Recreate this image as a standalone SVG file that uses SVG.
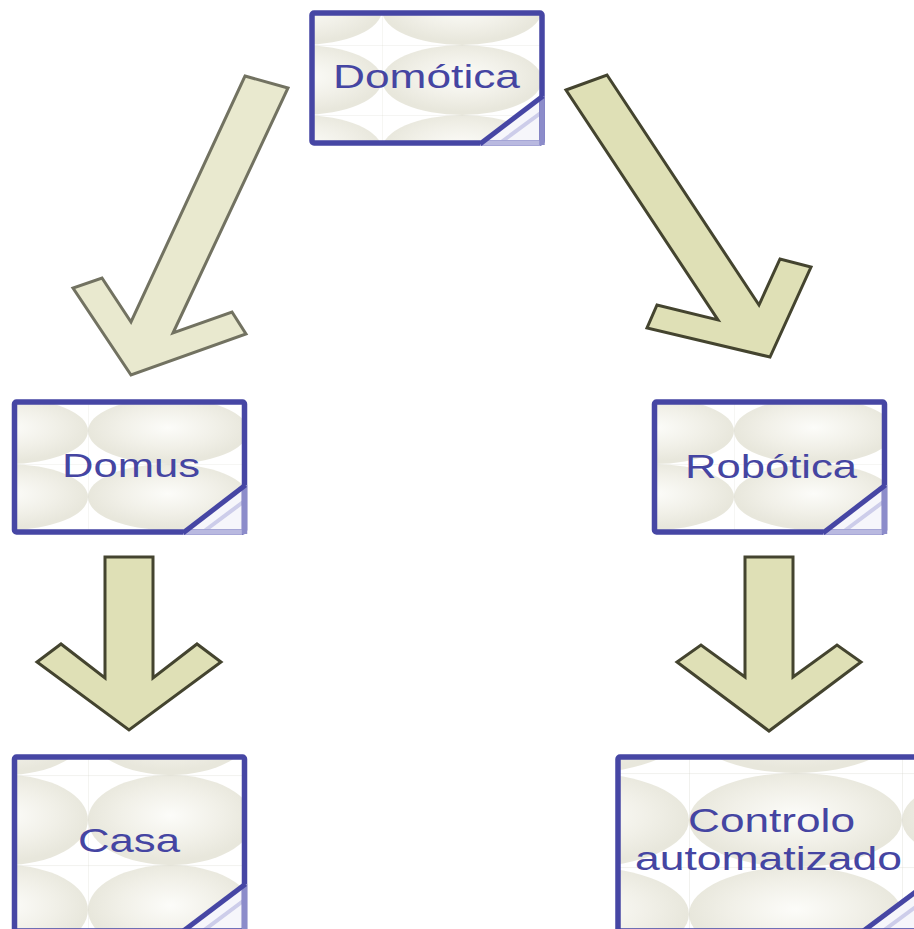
<svg xmlns="http://www.w3.org/2000/svg" width="914" height="929" viewBox="0 0 914 929">
  <style>
    .frame { fill: none; stroke: #4646a4; stroke-width: 5.5; stroke-linejoin: round; }
    .fold { stroke: #4646a4; stroke-width: 5; stroke-linecap: butt; }
    .fold-soft { stroke: #cdcdea; stroke-width: 4; }
    .fold-edge-b { stroke: #b9b9e0; stroke-width: 5.5; }
    .fold-edge-r { stroke: #8c8cca; stroke-width: 5.5; }
    .fold-fill { fill: #f6f6fb; }
    .label { font-family: "Liberation Sans", Arial, sans-serif; font-size: 34px; fill: #4545a2; }
    .arrow-pale { fill: #e9e9cf; stroke: #727261; stroke-width: 3; stroke-linejoin: miter; }
    .arrow { fill: #dfe0b6; stroke: #44442f; stroke-width: 3; stroke-linejoin: miter; }
  </style>
  <defs>
    <radialGradient id="egrad" cx="0.5" cy="0.45" r="0.5">
      <stop offset="0" stop-color="#fcfcf9"/>
      <stop offset="0.6" stop-color="#f1f0e8"/>
      <stop offset="1" stop-color="#e8e7dc"/>
    </radialGradient>
    <!-- one texture cell: an oval with faint seam lines on two sides -->
    <g id="cell">
      <ellipse cx="80" cy="33" rx="80" ry="33" fill="url(#egrad)"/>
      <path d="M0,0.4 H160 M0.4,0 V66" fill="none" stroke="#d6d6cc" stroke-width="0.7" opacity="0.35"/>
    </g>
    <pattern id="texTop" patternUnits="userSpaceOnUse" x="382" y="45" width="160" height="70">
      <use href="#cell" transform="scale(1,1.0606)"/>
    </pattern>
    <pattern id="texDomus" patternUnits="userSpaceOnUse" x="88" y="464" width="160" height="66">
      <use href="#cell"/>
    </pattern>
    <pattern id="texRobotica" patternUnits="userSpaceOnUse" x="734" y="464" width="160" height="66">
      <use href="#cell"/>
    </pattern>
    <pattern id="texCasa" patternUnits="userSpaceOnUse" x="88" y="775" width="165" height="90">
      <use href="#cell" transform="scale(1.031,1.364)"/>
    </pattern>
    <pattern id="texControlo" patternUnits="userSpaceOnUse" x="689" y="773" width="213" height="94">
      <use href="#cell" transform="scale(1.331,1.424)"/>
    </pattern>
  </defs>

  <rect width="914" height="929" fill="#ffffff"/>

  <!-- connectors -->
  <g id="connectors">
    <polygon class="arrow-pale" points="245,76 288,88 173,333 232,312 246,334 131,375 73,288 102,278 131,322"/>
    <polygon class="arrow" points="566,90 607,75 759,305 780,259 811,267 770,357 647,328 657,305 718,320"/>
    <polygon class="arrow" points="105,557 153,557 153,678 197,644 221,662 129,730 37,662 61,644 105,678"/>
    <polygon class="arrow" points="745,557 793,557 793,677 837,645 861,662 769,731 677,662 701,645 745,677"/>
  </g>

  <!-- Domótica -->
  <g id="node-domotica">
    <rect x="312" y="13" width="230" height="130" fill="url(#texTop)"/>
    <polygon class="fold-fill" points="480,143 542,96 542,143"/>
    <line class="fold-soft" x1="500" y1="143" x2="542" y2="112"/>
    <rect class="frame" x="312" y="13" width="230" height="130" rx="2"/>
    <path class="fold-edge-b" d="M480,143 H540" fill="none"/>
    <path class="fold-edge-r" d="M542,96 V145" fill="none"/>
    <line class="fold" x1="480" y1="144" x2="543" y2="96"/>
    <text class="label" x="333" y="88" textLength="187" lengthAdjust="spacingAndGlyphs">Domótica</text>
  </g>

  <!-- Domus -->
  <g id="node-domus">
    <rect x="14.5" y="402" width="230" height="130" fill="url(#texDomus)"/>
    <polygon class="fold-fill" points="183,532 244.5,485 244.5,532"/>
    <line class="fold-soft" x1="203" y1="532" x2="244.5" y2="501"/>
    <rect class="frame" x="14.5" y="402" width="230" height="130" rx="2"/>
    <path class="fold-edge-b" d="M183,532 H242" fill="none"/>
    <path class="fold-edge-r" d="M244.5,485 V534" fill="none"/>
    <line class="fold" x1="183" y1="533" x2="245.5" y2="485"/>
    <text class="label" x="62" y="477" textLength="138" lengthAdjust="spacingAndGlyphs">Domus</text>
  </g>

  <!-- Robótica -->
  <g id="node-robotica">
    <rect x="654.5" y="402" width="230" height="130" fill="url(#texRobotica)"/>
    <polygon class="fold-fill" points="823,532 884.5,485 884.5,532"/>
    <line class="fold-soft" x1="843" y1="532" x2="884.5" y2="501"/>
    <rect class="frame" x="654.5" y="402" width="230" height="130" rx="2"/>
    <path class="fold-edge-b" d="M823,532 H882" fill="none"/>
    <path class="fold-edge-r" d="M884.5,485 V534" fill="none"/>
    <line class="fold" x1="823" y1="533" x2="885.5" y2="485"/>
    <text class="label" x="685" y="478" textLength="172" lengthAdjust="spacingAndGlyphs">Robótica</text>
  </g>

  <!-- Casa -->
  <g id="node-casa">
    <rect x="14.5" y="757" width="230" height="174" fill="url(#texCasa)"/>
    <polygon class="fold-fill" points="183,931 244.5,884 244.5,931"/>
    <line class="fold-soft" x1="203" y1="931" x2="244.5" y2="900"/>
    <rect class="frame" x="14.5" y="757" width="230" height="174" rx="2"/>
    <path class="fold-edge-r" d="M244.5,884 V933" fill="none"/>
    <line class="fold" x1="182" y1="932" x2="245.5" y2="884"/>
    <text class="label" x="78" y="852" textLength="102" lengthAdjust="spacingAndGlyphs">Casa</text>
  </g>

  <!-- Controlo automatizado -->
  <g id="node-controlo">
    <rect x="618" y="757" width="307" height="174" fill="url(#texControlo)"/>
    <polygon class="fold-fill" points="863,931 925,884 925,931"/>
    <line class="fold-soft" x1="883" y1="931" x2="925" y2="900"/>
    <rect class="frame" x="618" y="757" width="307" height="174" rx="2"/>
    <line class="fold" x1="862" y1="932" x2="926" y2="884"/>
    <text class="label" x="688" y="832" textLength="167" lengthAdjust="spacingAndGlyphs">Controlo</text>
    <text class="label" x="635" y="870" textLength="267" lengthAdjust="spacingAndGlyphs">automatizado</text>
  </g>
</svg>
